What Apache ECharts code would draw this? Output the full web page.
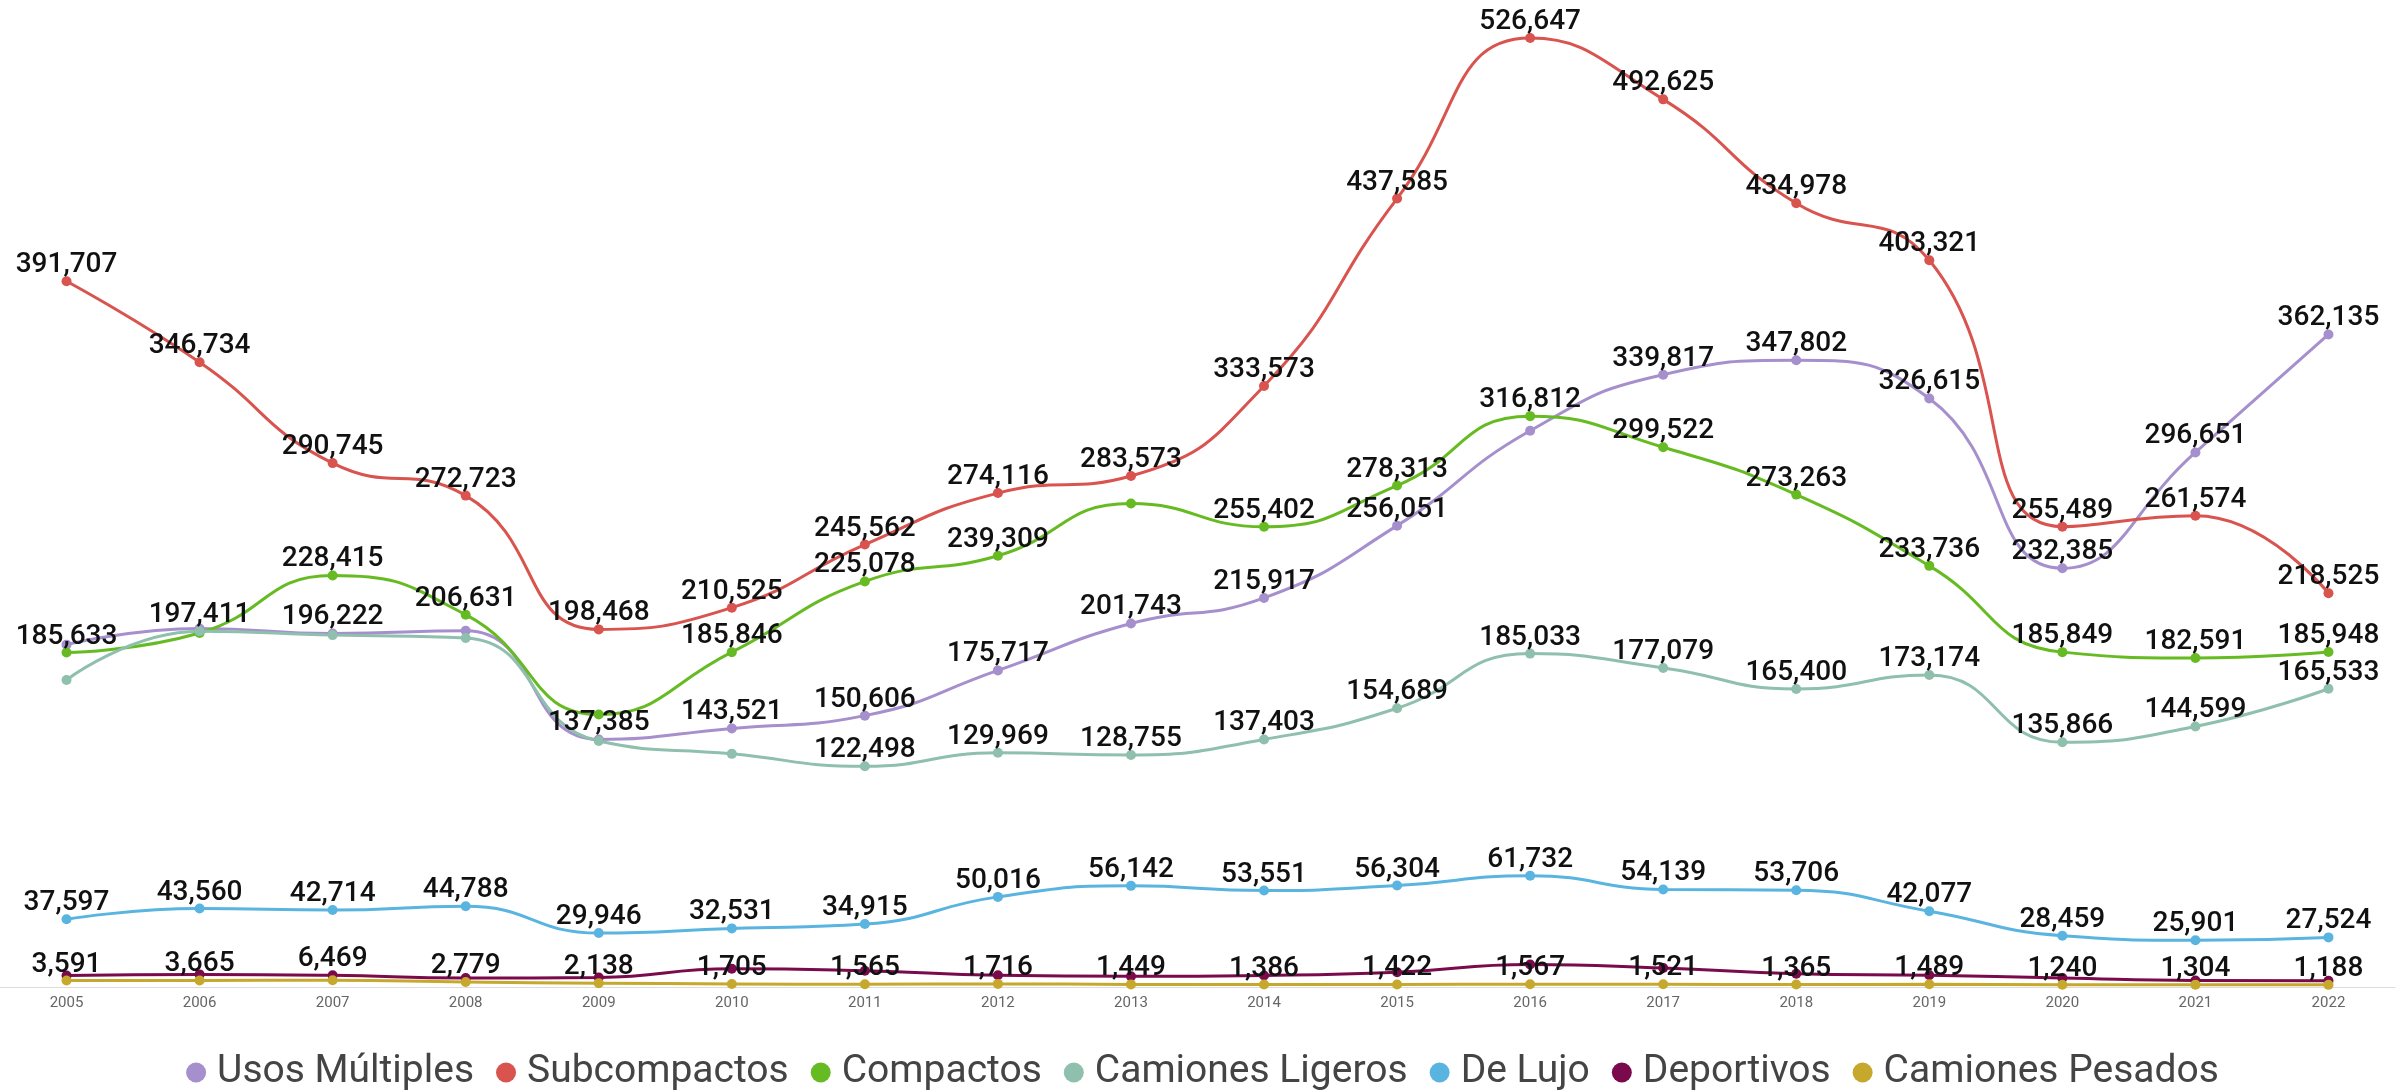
<!DOCTYPE html>
<html>
<head>
<meta charset="utf-8">
<script src="https://cdn.jsdelivr.net/npm/echarts@6/dist/echarts.min.js"></script>
<style>
html,body{margin:0;padding:0;background:#fff;}
#chart{width:2405px;height:1092px;}
</style>
</head>
<body>
<div id="chart"></div>
<script>
const years = ['2005','2006','2007','2008','2009','2010','2011','2012','2013','2014','2015','2016','2017','2018','2019','2020','2021','2022'];

const usosMultiples   = [190000,199000,196222,197700,137385,143521,150606,175717,201743,215917,256051,308700,339817,347802,326615,232385,296651,362135];
const subcompactos    = [391707,346734,290745,272723,198468,210525,245562,274116,283573,333573,437585,526647,492625,434978,403321,255489,261574,218525];
const compactos       = [185633,196500,228415,206631,151200,185846,225078,239309,268300,255402,278313,316812,299522,273263,233736,185849,182591,185948];
const camionesLigeros = [170400,197411,195300,193700,136500,129400,122498,129969,128755,137403,154689,185033,177079,165400,173174,135866,144599,165533];
const deLujo          = [37597,43560,42714,44788,29946,32531,34915,50016,56142,53551,56304,61732,54139,53706,42077,28459,25901,27524];
const deportivos      = [6400,7000,6469,5000,5300,10100,9000,6500,5900,6400,8200,12500,10500,7400,6500,5000,3600,3500];
const camionesPesados = [3591,3665,3700,2779,2138,1705,1565,1716,1449,1386,1422,1567,1521,1365,1489,1240,1304,1188];

// indices whose value labels are not shown in the reference
const hiddenUsos      = [0,1,3,11];
const hiddenSub       = [];
const hiddenComp      = [1,4,8];
const hiddenLigeros   = [0,2,3,4,5];
const hiddenLujo      = [];
const hiddenDeport    = [0,1,3,4,5,6,7,8,9,10,11,12,13,14,15,16,17];
const hiddenPesados   = [2];

const seriesDefs = [
  {name:'Usos Múltiples',   data:usosMultiples,   color:'#A68FCD', hidden:hiddenUsos},
  {name:'Subcompactos',     data:subcompactos,    color:'#D9534F', hidden:hiddenSub},
  {name:'Compactos',        data:compactos,       color:'#66BB22', hidden:hiddenComp},
  {name:'Camiones Ligeros', data:camionesLigeros, color:'#8FBFAD', hidden:hiddenLigeros},
  {name:'De Lujo',          data:deLujo,          color:'#5AB4E0', hidden:hiddenLujo},
  {name:'Deportivos',       data:deportivos,      color:'#7A0A4C', hidden:hiddenDeport},
  {name:'Camiones Pesados', data:camionesPesados, color:'#C6A82C', hidden:hiddenPesados}
];

const chart = echarts.init(document.getElementById('chart'));
chart.setOption({
  backgroundColor:'#fff',
  animation:false,
  textStyle:{fontFamily:'Roboto'},
  grid:{left:0,right:10,top:14,bottom:105,containLabel:false},
  legend:{
    top:1048,
    left:'center',
    icon:'circle',
    itemWidth:20,
    itemHeight:20,
    itemGap:22,
    textStyle:{fontSize:39,color:'#444',fontFamily:'Roboto',padding:[0,0,0,6]},
    data:seriesDefs.map(s=>s.name)
  },
  xAxis:{
    type:'category',
    data:years,
    boundaryGap:true,
    axisLine:{show:true,lineStyle:{color:'#dcdcdc',width:1}},
    axisTick:{show:false},
    axisLabel:{color:'#666',fontSize:15,margin:9,fontFamily:'Roboto'},
    splitLine:{show:false}
  },
  yAxis:{
    type:'value',
    min:0,
    max:540000,
    show:false,
    splitLine:{show:false}
  },
  series:seriesDefs.map(s=>({
    name:s.name,
    type:'line',
    smooth:true,
    symbol:'circle',
    symbolSize:10,
    lineStyle:{width:3,color:s.color},
    itemStyle:{color:s.color},
    label:{
      show:true,
      position:'top',
      distance:-3,
      color:'#111',
      fontSize:28,
      fontWeight:500,
      fontFamily:'Roboto',
      formatter:p=>Number(p.value).toLocaleString('en-US')
    },
    data:s.data.map((v,i)=> s.hidden.indexOf(i)>=0 ? {value:v,label:{show:false}} : v)
  }))
});
</script>
</body>
</html>
